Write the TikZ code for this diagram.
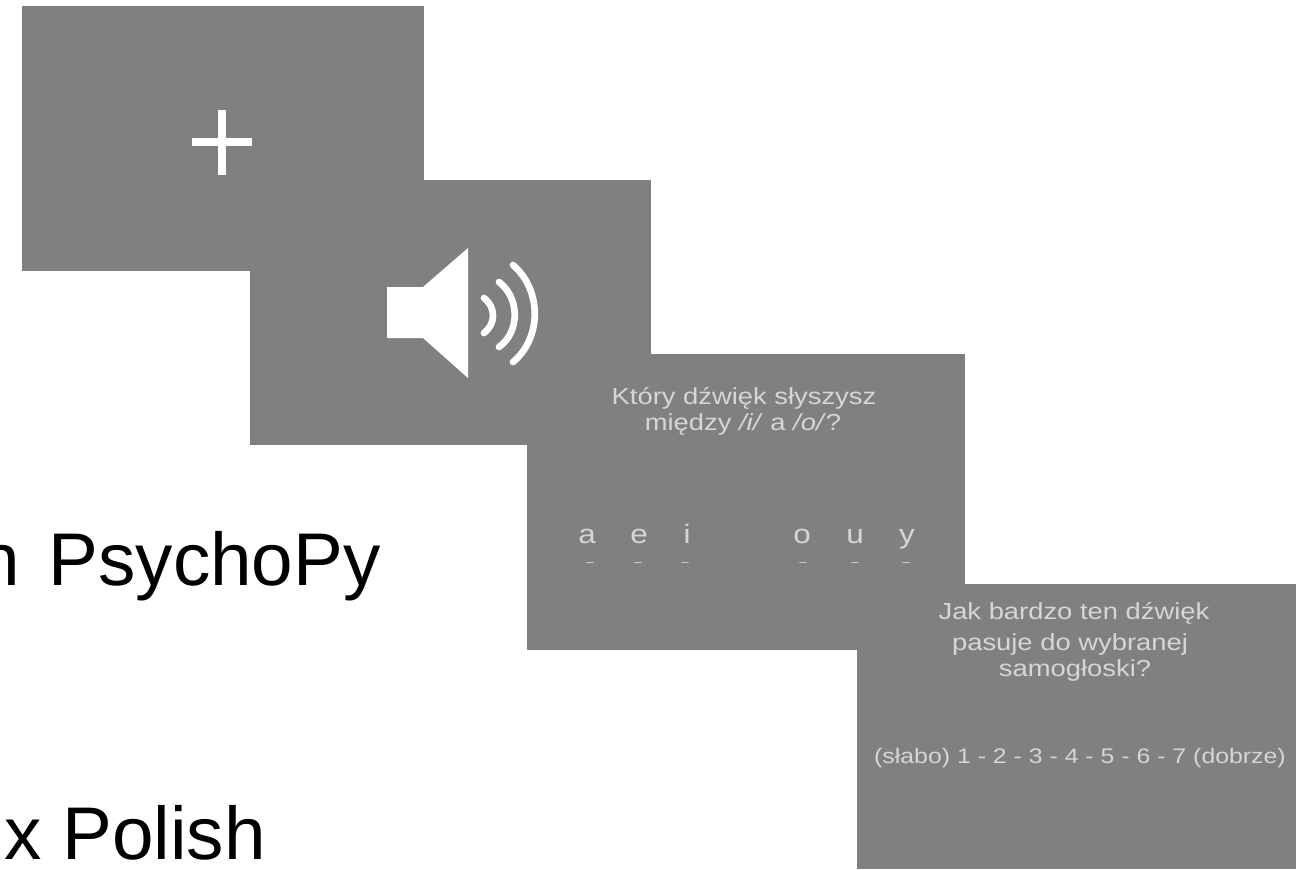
\documentclass[tikz,border=0pt]{standalone}
\usepackage{fontspec}
\setmainfont{Liberation Sans}
\newfontfamily\stimfont[FakeStretch=1.18]{Liberation Sans}
\definecolor{panelgray}{gray}{0.502}
\definecolor{stimgray}{gray}{0.84}
\tikzset{
  panel/.style={fill=panelgray,draw=none},
  stimtext/.style={text=stimgray,inner sep=0pt,anchor=base,font=\stimfont\fontsize{17.4pt}{19pt}\selectfont},
  scaletext/.style={text=stimgray,inner sep=0pt,anchor=base,font=\stimfont\fontsize{15.8pt}{19pt}\selectfont},
  vowel/.style={text=stimgray,inner sep=0pt,anchor=base,font=\stimfont\fontsize{20pt}{22pt}\selectfont},
  tick/.style={text=stimgray,inner sep=0pt,anchor=base,font=\fontsize{10pt}{11pt}\selectfont},
  bigtext/.style={text=black,inner sep=0pt,font=\fontsize{56pt}{60pt}\selectfont},
  soundarc/.style={draw=white,line width=5pt,line cap=round},
  crossbar/.style={draw=white,line width=6.5pt}
}
\begin{document}
\begin{tikzpicture}[x=0.75pt,y=-0.75pt]
\useasboundingbox (0,0) rectangle (1300,869);
\clip (0,0) rectangle (1300,869);
\fill[white] (0,0) rectangle (1300,869);
% captions
\node[bigtext,anchor=base east] (psy) at (381,585) {n\hspace{6pt} PsychoPy};
\node[bigtext,anchor=base west] (pol) at (4,859) {x Polish};
% panels
\fill[panel] (22,6) rectangle (424,271);
\fill[panel] (250,180) rectangle (651,445);
\fill[panel] (527,354) rectangle (965,650);
\fill[panel] (857,584) rectangle (1296,869);
% fixation
\draw[crossbar] (192,142) -- (252,142);
\draw[crossbar] (222,110) -- (222,175);
% speaker
\fill[white] (387,287) -- (423,287) -- (468,248) -- (468,378) -- (423,338) -- (387,338) -- cycle;
\draw[soundarc] (484,298) .. controls (496,307) and (496,324) .. (484,333);
\draw[soundarc] (499,282) .. controls (520,298) and (520,332) .. (499,347);
\draw[soundarc] (513,265) .. controls (542,290) and (542,338) .. (513,362);
% question 1
\node[stimtext] (q1a) at (744,404) {Który dźwięk słyszysz};
\node[stimtext] (q1b) at (743,430) {między \textit{/i/} a \textit{/o/}?};
\foreach \n/\x/\c in {va/587/a,ve/639/e,vi/687/i,vo/802/o,vu/855/u,vy/907/y}{
  \node[vowel] (\n) at (\x,543) {\c};
}
\foreach \n/\x in {da/590,de/638,di/685,do/803,du/855,dy/906}{
  \node[tick] (\n) at (\x,566) {–};
}
% question 2
\node[stimtext] (q2a) at (1074,619) {Jak bardzo ten dźwięk};
\node[stimtext] (q2b) at (1070,650) {pasuje do wybranej};
\node[stimtext] (q2c) at (1075,676) {samogłoski?};
\node[scaletext] (scale) at (1080,763) {(słabo) 1 - 2 - 3 - 4 - 5 - 6 - 7 (dobrze)};
\end{tikzpicture}
\end{document}
